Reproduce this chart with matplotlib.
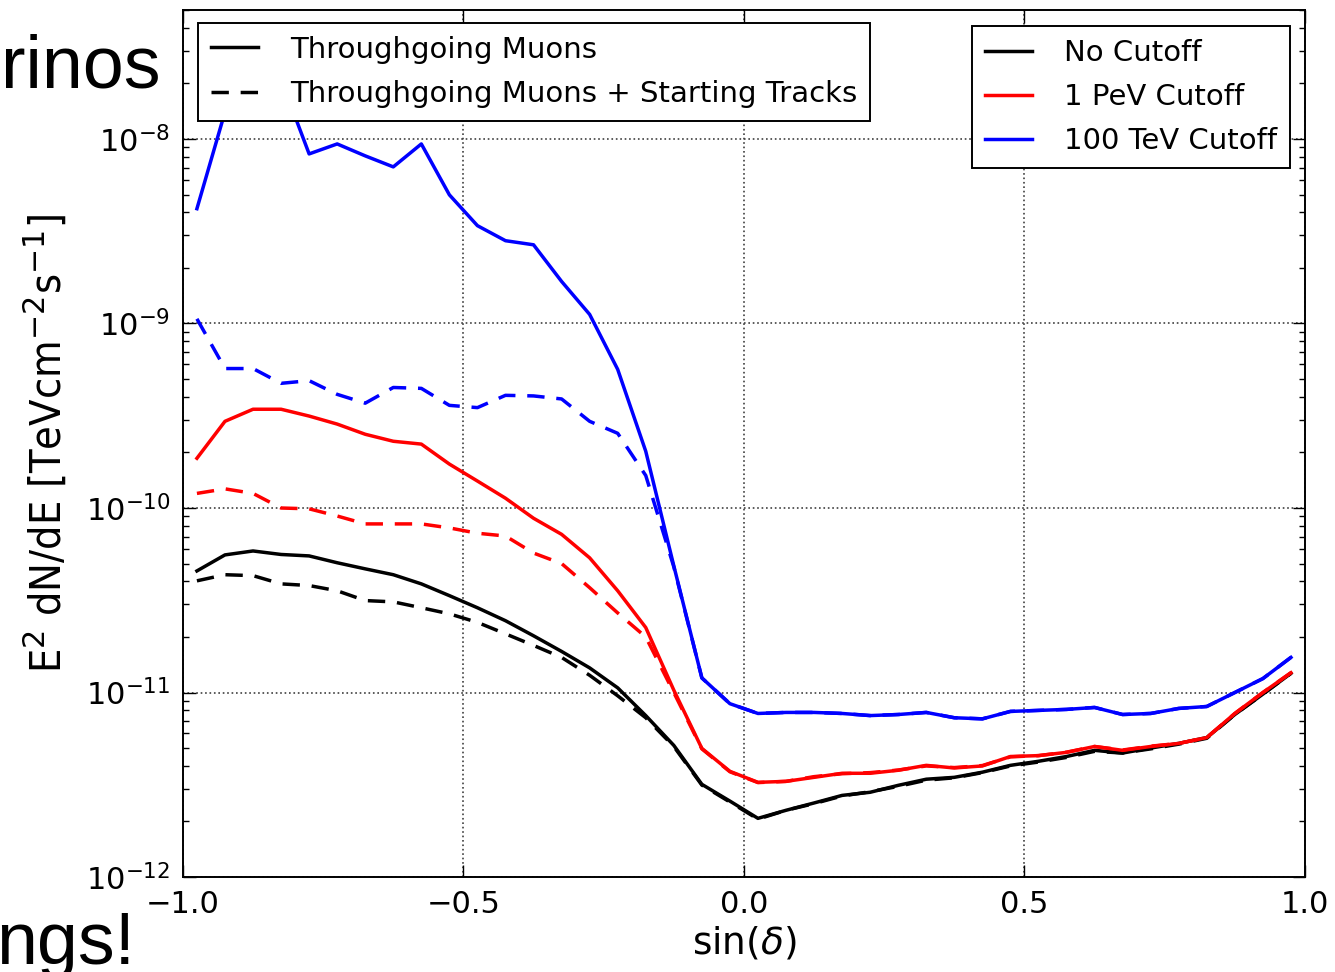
import numpy as np
import matplotlib
matplotlib.use('Agg')
from matplotlib import pyplot as plt
from matplotlib.lines import Line2D

# sin(declination) grid of the sensitivity curves
sin_dec = [-0.975, -0.925, -0.875, -0.825, -0.775, -0.725, -0.675, -0.625, -0.575, -0.525,
           -0.475, -0.425, -0.375, -0.325, -0.275, -0.225, -0.175, -0.125, -0.075, -0.025,
           0.025, 0.075, 0.125, 0.175, 0.225, 0.275, 0.325, 0.375, 0.425, 0.475,
           0.525, 0.575, 0.625, 0.675, 0.725, 0.775, 0.825, 0.875, 0.925, 0.975]

# no cutoff
tg_nocut = [4.56e-11, 5.57e-11, 5.85e-11, 5.6e-11, 5.5e-11, 5.05e-11, 4.68e-11, 4.35e-11, 3.88e-11, 3.35e-11,
            2.88e-11, 2.45e-11, 2.03e-11, 1.67e-11, 1.36e-11, 1.06e-11, 7.5e-12, 5.17e-12, 3.18e-12, 2.58e-12,
            2.08e-12, 2.3e-12, 2.52e-12, 2.77e-12, 2.88e-12, 3.14e-12, 3.39e-12, 3.47e-12, 3.7e-12, 4.03e-12,
            4.24e-12, 4.5e-12, 4.86e-12, 4.7e-12, 5.0e-12, 5.3e-12, 5.7e-12, 7.6e-12, 9.8e-12, 1.27e-11]
st_nocut = [4.03e-11, 4.35e-11, 4.3e-11, 3.88e-11, 3.8e-11, 3.56e-11, 3.15e-11, 3.1e-11, 2.88e-11, 2.67e-11,
            2.4e-11, 2.08e-11, 1.8e-11, 1.55e-11, 1.24e-11, 9.6e-12, 7.3e-12, 5.1e-12, 3.15e-12, 2.55e-12,
            2.06e-12, 2.3e-12, 2.5e-12, 2.75e-12, 2.9e-12, 3.1e-12, 3.35e-12, 3.45e-12, 3.68e-12, 4.0e-12,
            4.2e-12, 4.45e-12, 4.8e-12, 4.7e-12, 4.95e-12, 5.25e-12, 5.65e-12, 7.6e-12, 9.8e-12, 1.27e-11]

# 1 PeV cutoff
tg_1pev = [1.86e-10, 2.95e-10, 3.43e-10, 3.43e-10, 3.15e-10, 2.85e-10, 2.51e-10, 2.3e-10, 2.22e-10, 1.73e-10,
           1.4e-10, 1.13e-10, 8.8e-11, 7.2e-11, 5.37e-11, 3.56e-11, 2.25e-11, 1.03e-11, 4.98e-12, 3.74e-12,
           3.26e-12, 3.3e-12, 3.47e-12, 3.65e-12, 3.65e-12, 3.79e-12, 4.03e-12, 3.9e-12, 4.0e-12, 4.5e-12,
           4.55e-12, 4.74e-12, 5.1e-12, 4.86e-12, 5.1e-12, 5.3e-12, 5.7e-12, 7.7e-12, 1.0e-11, 1.28e-11]
st_1pev = [1.2e-10, 1.27e-10, 1.2e-10, 1.0e-10, 9.9e-11, 9.05e-11, 8.2e-11, 8.2e-11, 8.2e-11, 7.8e-11,
           7.3e-11, 7.05e-11, 5.7e-11, 5.0e-11, 3.7e-11, 2.7e-11, 2.0e-11, 1.0e-11, 4.95e-12, 3.72e-12,
           3.25e-12, 3.3e-12, 3.5e-12, 3.63e-12, 3.68e-12, 3.8e-12, 4.0e-12, 3.92e-12, 4.02e-12, 4.48e-12,
           4.55e-12, 4.75e-12, 5.1e-12, 4.88e-12, 5.12e-12, 5.3e-12, 5.7e-12, 7.7e-12, 1.0e-11, 1.28e-11]

# 100 TeV cutoff
tg_100tev = [4.19e-9, 1.4e-8, 2.0e-8, 2.1e-8, 8.3e-9, 9.4e-9, 8.1e-9, 7.06e-9, 9.4e-9, 4.98e-9,
             3.39e-9, 2.81e-9, 2.67e-9, 1.69e-9, 1.12e-9, 5.64e-10, 2.03e-10, 4.86e-11, 1.2e-11, 8.7e-12,
             7.7e-12, 7.8e-12, 7.8e-12, 7.7e-12, 7.5e-12, 7.6e-12, 7.8e-12, 7.3e-12, 7.2e-12, 7.9e-12,
             8.0e-12, 8.1e-12, 8.3e-12, 7.6e-12, 7.7e-12, 8.2e-12, 8.4e-12, 1.0e-11, 1.19e-11, 1.55e-11]
st_100tev = [1.06e-9, 5.7e-10, 5.7e-10, 4.74e-10, 4.9e-10, 4.13e-10, 3.7e-10, 4.5e-10, 4.45e-10, 3.6e-10,
             3.5e-10, 4.08e-10, 4.05e-10, 3.9e-10, 2.95e-10, 2.54e-10, 1.5e-10, 4.8e-11, 1.2e-11, 8.7e-12,
             7.7e-12, 7.8e-12, 7.8e-12, 7.7e-12, 7.5e-12, 7.6e-12, 7.8e-12, 7.3e-12, 7.2e-12, 7.9e-12,
             8.0e-12, 8.1e-12, 8.3e-12, 7.6e-12, 7.7e-12, 8.2e-12, 8.4e-12, 1.0e-11, 1.19e-11, 1.55e-11]

sample_labels = ['Throughgoing Muons', 'Throughgoing Muons + Starting Tracks']
cutoff_labels = ['No Cutoff', '1 PeV Cutoff', '100 TeV Cutoff']
colours = ['k', 'r', 'b']

plt.rcParams['font.family'] = ['DejaVu Sans']
fig = plt.figure(figsize=(13.35, 9.72), dpi=100)
ax = fig.add_axes([0.137, 0.0977, 0.8405, 0.892])

lw = 2.5
dash = (5.0, 3.4)
for tg, st, c in zip([tg_nocut, tg_1pev, tg_100tev], [st_nocut, st_1pev, st_100tev], colours):
    ax.plot(sin_dec, st, color=c, lw=lw, ls='--', dashes=dash)
    ax.plot(sin_dec, tg, color=c, lw=lw, ls='-')

ax.set_yscale('log')
ax.set_xlim(-1, 1)
ax.set_ylim(1e-12, 5e-8)
ax.set_xticks([-1.0, -0.5, 0.0, 0.5, 1.0])
ax.set_xticklabels(['\u22121.0', '\u22120.5', '0.0', '0.5', '1.0'])
ax.grid(True, which='major', color='0.25', ls=':', lw=1.2)
ax.tick_params(which='both', direction='in', top=True, right=True, labelsize=22, width=1)
ax.tick_params(which='major', length=9, pad=9)
ax.tick_params(which='minor', length=4.5)
for sp in ax.spines.values():
    sp.set_linewidth(1.4)

ax.set_xlabel(r'sin($\delta$)', fontsize=27)
ax.xaxis.set_label_coords(0.5, -0.055)
ax.set_ylabel(r'E$^2$ dN/dE [TeVcm$^{-2}$s$^{-1}$]', fontsize=31, fontstretch='condensed')
ax.yaxis.set_label_coords(-0.1, 0.5)

h1 = [Line2D([], [], color='k', lw=lw, ls='-'),
      Line2D([], [], color='k', lw=lw, ls='--', dashes=dash)]
leg1 = ax.legend(h1, sample_labels, loc='upper left', bbox_to_anchor=(0.003, 0.999),
                 fontsize=21, fancybox=False, edgecolor='k', framealpha=1,
                 handlelength=1.6, handletextpad=1.1, labelspacing=0.55,
                 borderpad=0.45, borderaxespad=0.4)
leg1.get_frame().set_linewidth(1.4)
ax.add_artist(leg1)

h2 = [Line2D([], [], color=c, lw=lw) for c in colours]
leg2 = ax.legend(h2, cutoff_labels, loc='upper right', bbox_to_anchor=(0.9985, 0.997),
                 fontsize=21, fancybox=False, edgecolor='k', framealpha=1,
                 handlelength=1.6, handletextpad=1.1, labelspacing=0.55,
                 borderpad=0.45, borderaxespad=0.45)
leg2.get_frame().set_linewidth(1.4)

# slide text at the edges of the screenshot
fig.text(1 / 1335, 1 - 88 / 972, 'rinos', ha='left', va='baseline',
         fontsize=53, family='Liberation Sans')
fig.text(135 / 1335, 0.008, 'ngs!', ha='right', va='baseline',
         fontsize=53, family='Liberation Sans')

fig.savefig('out.png', dpi=100)
